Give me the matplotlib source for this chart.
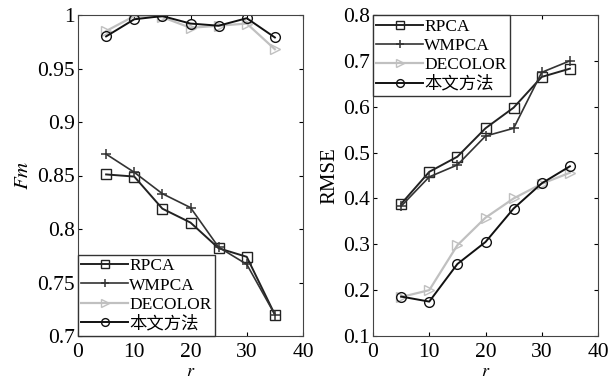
import matplotlib.pyplot as plt
import numpy as np

plt.rcParams['font.family'] = ['Liberation Serif', 'Noto Sans CJK SC']
plt.rcParams['mathtext.fontset'] = 'stix'

r = [5, 10, 15, 20, 25, 30, 35]
labels = ['RPCA', 'WMPCA', 'DECOLOR', '本文方法']

fm_rpca = [0.851, 0.849, 0.819, 0.806, 0.782, 0.774, 0.720]
fm_wmpca = [0.870, 0.853, 0.833, 0.820, 0.783, 0.767, 0.720]
fm_decolor = [0.985, 0.999, 0.998, 0.988, 0.990, 0.992, 0.968]
fm_ours = [0.980, 0.996, 0.999, 0.992, 0.990, 0.997, 0.979]

rmse_rpca = [0.388, 0.458, 0.491, 0.553, 0.598, 0.665, 0.683]
rmse_wmpca = [0.383, 0.447, 0.473, 0.536, 0.553, 0.675, 0.700]
rmse_decolor = [0.185, 0.200, 0.298, 0.358, 0.400, 0.432, 0.456]
rmse_ours = [0.186, 0.175, 0.257, 0.305, 0.378, 0.433, 0.470]

styles = [
    dict(marker='s', color='#222222', mfc='none', ms=7, lw=1.4),
    dict(marker='+', color='#333333', ms=7, lw=1.2, mew=1.1),
    dict(marker='>', color='#c0c0c0', mfc='none', ms=7, lw=1.6),
    dict(marker='o', color='#111111', mfc='none', ms=7, lw=1.4),
]

fig = plt.figure(figsize=(6.13, 3.8), dpi=100)
ax1 = fig.add_axes([78/613, 1-336/380, 225/613, 321/380])
ax2 = fig.add_axes([373/613, 1-336/380, 225/613, 321/380])

for ys, st, lab in zip([fm_rpca, fm_wmpca, fm_decolor, fm_ours], styles, labels):
    ax1.plot(r, ys, label=lab, **st)
for ys, st, lab in zip([rmse_rpca, rmse_wmpca, rmse_decolor, rmse_ours], styles, labels):
    ax2.plot(r, ys, label=lab, **st)

ax1.set_xlim(0, 40)
ax1.set_ylim(0.7, 1.0)
ax1.set_yticks(np.arange(0.7, 1.001, 0.05))
ax1.set_yticklabels(['0.7', '0.75', '0.8', '0.85', '0.9', '0.95', '1'])
ax1.set_ylabel('$Fm$', fontsize=15, labelpad=3)

ax2.set_xlim(0, 40)
ax2.set_ylim(0.1, 0.8)
ax2.set_yticks(np.arange(0.1, 0.801, 0.1))
ax2.set_yticklabels(['0.1', '0.2', '0.3', '0.4', '0.5', '0.6', '0.7', '0.8'])
ax2.set_ylabel('RMSE', fontsize=15, labelpad=3)

for ax in (ax1, ax2):
    ax.set_xticks([0, 10, 20, 30, 40])
    ax.set_xlabel('$r$', fontsize=13, labelpad=1)
    ax.tick_params(direction='in', top=True, right=True, labelsize=15.5, length=3, pad=2)
    ax.tick_params(axis='x', pad=5)
    for s in ax.spines.values():
        s.set_color('#444444')

leg_kw = dict(fontsize=12.5, handlelength=2.7, handletextpad=0.05, borderaxespad=0,
              borderpad=0.2, labelspacing=0.18, fancybox=False, edgecolor='#333333',
              framealpha=1, markerscale=0.8)
l1 = ax1.legend(loc='lower left', **leg_kw)
l2 = ax2.legend(loc='upper left', **leg_kw)
for l in (l1, l2):
    l.get_frame().set_linewidth(1.0)

plt.savefig('out.png')
